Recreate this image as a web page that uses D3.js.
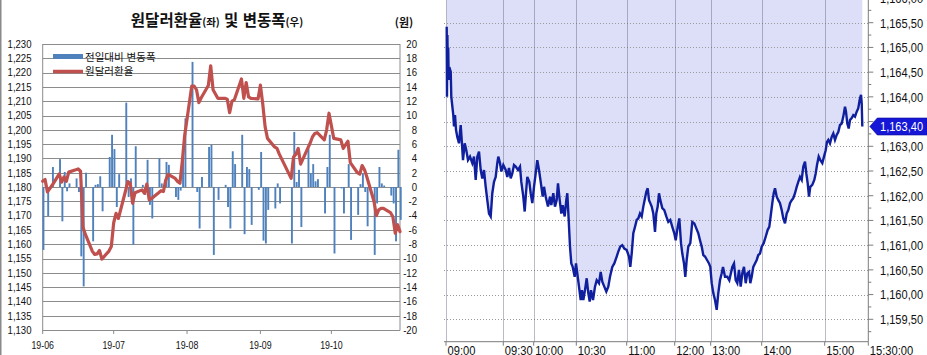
<!DOCTYPE html>
<html lang="ko">
<head>
<meta charset="UTF-8">
<title>원달러환율 및 변동폭</title>
<script src="https://d3js.org/d3.v7.min.js"></script>
<style>
  body { margin: 0; background: #fff; }
  svg text { font-family: "Liberation Sans", Arial, sans-serif; fill: #111; }
  svg text.kr { font-family: "Noto Sans CJK KR", sans-serif; }
</style>
</head>
<body>
<svg id="chart" width="927" height="355"></svg>
<script>
// ---- 일별 원달러환율 / 전일대비 변동폭 ----
const dates = [
  "2019-06-03","2019-06-04","2019-06-05","2019-06-07","2019-06-10","2019-06-11","2019-06-12","2019-06-13","2019-06-14","2019-06-17",
  "2019-06-18","2019-06-19","2019-06-20","2019-06-21","2019-06-24","2019-06-25","2019-06-26","2019-06-27","2019-06-28",
  "2019-07-01","2019-07-02","2019-07-03","2019-07-04","2019-07-05","2019-07-08","2019-07-09","2019-07-10","2019-07-11","2019-07-12",
  "2019-07-15","2019-07-16","2019-07-17","2019-07-18","2019-07-19","2019-07-22","2019-07-23","2019-07-24","2019-07-25","2019-07-26",
  "2019-07-29","2019-07-30","2019-07-31",
  "2019-08-01","2019-08-02","2019-08-05","2019-08-06","2019-08-07","2019-08-08","2019-08-09","2019-08-12","2019-08-13","2019-08-14",
  "2019-08-16","2019-08-19","2019-08-20","2019-08-21","2019-08-22","2019-08-23","2019-08-26","2019-08-27","2019-08-28","2019-08-29","2019-08-30",
  "2019-09-02","2019-09-03","2019-09-04","2019-09-05","2019-09-06","2019-09-09","2019-09-10","2019-09-11","2019-09-16","2019-09-17",
  "2019-09-18","2019-09-19","2019-09-20","2019-09-23","2019-09-24","2019-09-25","2019-09-26","2019-09-27","2019-09-30",
  "2019-10-01","2019-10-02","2019-10-04","2019-10-07","2019-10-08","2019-10-10","2019-10-11","2019-10-14","2019-10-15","2019-10-16",
  "2019-10-17","2019-10-18","2019-10-21","2019-10-22","2019-10-23","2019-10-24","2019-10-25","2019-10-28","2019-10-29","2019-10-30","2019-10-31",
  "2019-11-01"
];
const rates = [
  1182.0,1182.6,1178.3,1180.6,1184.6,1181.7,1183.5,1182.0,1185.2,1186.0,
  1186.3,1185.5,1166.0,1163.5,1157.5,1156.4,1156.6,1157.8,1154.8,
  1157.6,1159.2,1167.5,1170.8,1169.0,1178.6,1181.9,1181.3,1174.3,1178.0,
  1179.0,1177.8,1181.0,1175.5,1176.0,1178.0,1178.7,1178.4,1182.4,1184.4,
  1183.0,1181.9,1181.3,
  1189.0,1198.0,1215.3,1215.3,1214.0,1209.5,1211.2,1215.5,1222.4,1214.0,
  1211.0,1211.0,1210.7,1206.0,1210.0,1210.5,1217.8,1211.0,1216.5,1211.5,1211.0,
  1210.8,1215.6,1209.0,1201.0,1197.0,1194.0,1193.5,1191.5,1183.0,1190.5,
  1191.5,1193.5,1188.0,1193.5,1195.3,1197.5,1198.7,1199.0,1196.5,
  1200.0,1205.8,1197.0,1196.5,1193.5,1196.0,1188.5,1185.0,1184.5,1187.5,
  1186.0,1183.5,1175.0,1170.0,1172.0,1172.5,1172.5,1171.0,1169.6,1163.8,1166.8,
  1164.4
];
const changes = [
  -8.8,0.6,-4.1,2.8,3.9,-4.8,2.1,-0.6,0.5,1.2,
  -0.7,-9.7,-13.9,2.0,-7.6,0.3,0.4,1.5,-3.4,
  4.2,7.3,5.3,-2.8,1.8,11.8,-1.4,1.2,-8.1,5.7,
  0.3,-1.1,3.8,-2.5,-4.4,4.0,0.5,0.2,3.5,3.1,
  -1.4,-1.8,-0.5,
  5.4,9.6,17.5,0.0,-0.7,-5.8,1.4,5.6,5.9,-9.5,
  -1.8,0.3,-2.8,-5.8,5.0,3.2,7.3,-6.6,2.8,2.5,-5.3,
  -0.4,4.9,-7.5,-7.9,-3.2,-3.0,0.5,-2.3,-7.9,7.7,
  0.7,2.4,-5.6,5.4,1.9,3.2,0.8,1.1,-3.7,
  2.8,7.3,-9.3,-0.2,-3.7,3.2,-7.4,-3.9,0.4,1.9,
  -0.7,-5.5,-9.5,-2.3,2.8,0.5,0.2,-1.2,-2.3,-7.6,5.2,
  -4.6
];

// 왼쪽 차트 눈금
const leftTicks = [1130,1135,1140,1145,1150,1155,1160,1165,1170,1175,1180,1185,1190,1195,1200,1205,1210,1215,1220,1225,1230];
const rightTicks = [-20,-18,-16,-14,-12,-10,-8,-6,-4,-2,0,2,4,6,8,10,12,14,16,18,20];
const monthTicks = ["2019-06-03","2019-07-03","2019-08-03","2019-09-03","2019-10-03"];
const monthLabels = ["19-06","19-07","19-08","19-09","19-10"];

// ---- 장중 환율 (체결 순번, 가격) ----
const tradeSeq = [
  7,10,14,18,22,27,33,47,53,73,80,90,100,113,130,147,157,170,187,203,220,240,263,280,297,313,330,347,363,380,
  397,413,430,447,463,480,497,513,523,540,553,573,597,613,630,647,663,680,697,720,740,753,773,787,800,813,833,847,863,880,
  897,913,930,947,967,980,997,1020,1040,1053,1073,1090,1107,1120,1137,1153,1167,1187,1203,1213,1227,1240,1253,1267,1287,1300,
  1313,1330,1347,1360,1373,1390,1407,1423,1437,1450,1470,1490,1507,1530,1547,1563,1583,1603,1623,1640,1663,1683,1707,1723,
  1743,1763,1783,1807,1830,1843,1857,1873,1890,1907,1923,1940,1957,1973,1990,2003,2017,2030,2043,2057,2073,2090,2103,2117,
  2130,2143,2163,2183,2203,2223,2243,2263,2283,2297,2317,2333,2350,2363,2380,2393,2407,2423,2443,2463,2483,2503,2523,2540,
  2557,2573,2590,2610,2630,2643,2657,2673,2690,2707,2723,2740,2757,2770,2790,2813,2833,2863,2880,2897,2913,2930,2947,2963,
  2980,2997,3013,3030,3043,3057,3073,3090,3107,3123,3140,3157,3177,3197,3217,3233,3250,3263,3277,3290,3307,3323,3340,3357,
  3373,3390,3407,3423,3440,3457,3473,3490,3507,3523,3540,3557,3573,3590,3603,3617,3630,3643,3663,3683,3697,3710,3727,3743,
  3763,3780,3797,3810,3823,3840,3857,3873,3890,3907,3923,3940,3957,3973,3990,4000,4013,4027,4040,4057,4073,4090,4107,4123,
  4137,4150,4157,4163
];
const tradePrice = [
  1165.42,1164.00,1165.25,1164.40,1165.00,1164.34,1164.60,1164.51,1164.00,1163.63,1163.40,1163.63,1163.33,1163.19,1163.06,1163.43,1163.13,1162.72,1163.06,1162.92,1162.72,1162.79,1162.66,1162.79,1162.32,1162.79,1162.89,1162.52,1162.35,1162.52,
  1162.18,1161.91,1161.64,1161.58,1162.05,1162.28,1162.38,1162.66,1162.79,1162.66,1162.49,1162.62,1162.52,1162.38,1162.56,1162.35,1162.45,1162.62,1162.59,1162.52,1162.59,1162.28,1161.98,1161.68,1162.05,1162.38,1162.28,1162.05,1161.85,1162.18,
  1162.45,1162.72,1162.52,1162.28,1161.98,1162.18,1161.98,1161.78,1161.98,1161.81,1162.05,1161.78,1161.91,1162.25,1161.91,1161.64,1161.81,1161.58,1161.91,1162.05,1161.51,1160.97,1160.63,1160.56,1160.36,1160.63,
  1160.43,1160.16,1159.89,1160.09,1159.89,1160.09,1160.33,1160.03,1159.86,1160.09,1159.89,1160.16,1160.29,1160.23,1160.46,1160.26,1160.16,1160.06,1160.16,1160.36,1160.56,1160.63,1160.77,1160.87,
  1160.97,1161.00,1160.93,1160.90,1160.77,1160.56,1160.83,1161.24,1161.37,1161.51,1161.54,1161.64,1161.58,1161.78,1161.95,1162.08,1162.15,1161.91,1161.85,1161.78,1161.64,1161.27,1161.64,1161.78,
  1162.05,1161.91,1161.75,1161.71,1161.58,1161.47,1161.51,1161.37,1161.24,1161.10,1161.37,1161.54,1161.04,1160.83,1160.63,1160.36,1160.70,1160.97,1161.04,1161.47,1161.44,1161.34,1161.24,1161.10,
  1160.97,1160.80,1160.77,1160.70,1160.63,1160.56,1160.23,1160.03,1159.89,1159.69,1160.03,1160.29,1160.43,1160.56,1160.36,1160.36,1160.29,1160.56,1160.63,1160.29,1160.23,1160.50,1160.16,1160.43,
  1160.56,1160.23,1160.43,1160.46,1160.23,1160.36,1160.56,1160.63,1160.70,1160.80,1160.83,1160.97,1161.04,1161.17,1161.31,1161.37,1161.64,1161.85,1162.05,1162.15,1161.98,1161.91,1161.85,1161.71,
  1161.54,1161.44,1161.64,1161.71,1161.85,1161.91,1161.95,1162.05,1162.18,1162.28,1162.38,1162.32,1162.59,1162.69,1162.45,1162.25,1161.98,1162.18,1162.22,1162.32,1162.45,1162.62,1162.79,1162.72,
  1162.66,1162.79,1162.92,1163.09,1163.13,1163.06,1163.19,1163.26,1163.13,1163.23,1163.29,1163.43,1163.46,1163.60,1163.80,1163.70,1163.46,1163.36,1163.53,1163.57,1163.63,1163.60,1163.70,1163.77,
  1163.94,1164.04,1163.87,1163.40
];

// 오른쪽 차트 눈금
const timeTicks = [0,573,877,1303,1807,2287,2647,3157,3787,4223];
const timeLabels = ["09:00","09:30","10:00","10:30","11:00","12:00","13:00","14:00","15:00","15:30:00"];
const priceTicks = [1159.5,1160.0,1160.5,1161.0,1161.5,1162.0,1162.5,1163.0,1163.5,1164.0,1164.5,1165.0,1165.5,1166.0];

const svg = d3.select("#chart");
const parse = d3.timeParse("%Y-%m-%d");

// 좁은 글꼴이 없어서 가로로 눌러 그린다
function narrowText(sel, x, y, size, sx) {
  return sel.attr("transform", (d, i) => `translate(${x(d, i)},${y(d, i)}) scale(${sx},1)`)
    .attr("font-size", size);
}

// ================= 왼쪽: 원달러환율(좌) 및 변동폭(우) =================
const L = {left: 42.7, right: 400, top: 44, bottom: 330};
const daily = dates.map((d, i) => ({date: parse(d), rate: rates[i], chg: changes[i]}));

const xL = d3.scaleTime()
  .domain([daily[0].date, daily[daily.length - 1].date])
  .range([L.left, L.right]);
const yL = d3.scaleLinear().domain([1130, 1230]).range([L.bottom, L.top]);
const yR = d3.scaleLinear().domain([-20, 20]).range([L.bottom, L.top]);

// 바깥 테두리
svg.append("line").attr("x1", 0.75).attr("x2", 0.75).attr("y1", 0).attr("y2", 355)
  .attr("stroke", "#8a8a8a").attr("stroke-width", 1.5);

// 가로 격자
svg.append("g").selectAll("line").data(leftTicks).join("line")
  .attr("x1", L.left).attr("x2", L.right)
  .attr("y1", d => Math.round(yL(d)) + 0.5).attr("y2", d => Math.round(yL(d)) + 0.5)
  .attr("stroke", "#8c8c8c").attr("stroke-width", 1);

// 좌우 축선
[L.left, L.right].forEach(x => {
  svg.append("line").attr("x1", x).attr("x2", x).attr("y1", L.top).attr("y2", L.bottom + 0.5)
    .attr("stroke", "#8c8c8c").attr("stroke-width", 1);
});

// x축 눈금
svg.append("g").selectAll("line").data(monthTicks).join("line")
  .attr("x1", d => xL(parse(d))).attr("x2", d => xL(parse(d)))
  .attr("y1", L.bottom).attr("y2", L.bottom + 4)
  .attr("stroke", "#8c8c8c");
narrowText(svg.append("g").selectAll("text").data(monthTicks).join("text"),
    d => xL(parse(d)), () => L.bottom + 19, 11, 0.8)
  .attr("text-anchor", "middle")
  .text((d, i) => monthLabels[i]);

// 좌축 라벨
narrowText(svg.append("g").selectAll("text").data(leftTicks).join("text"),
    () => 31.5, d => yL(d), 11, 0.87)
  .attr("dy", "0.35em").attr("text-anchor", "end")
  .text(d => d3.format(",")(d));

// 우축 라벨
narrowText(svg.append("g").selectAll("text").data(rightTicks).join("text"),
    () => 417, d => yR(d), 11, 0.87)
  .attr("dy", "0.35em").attr("text-anchor", "end")
  .text(d => d);

// 변동폭 막대
svg.append("g").selectAll("rect").data(daily).join("rect")
  .attr("x", d => xL(d.date) - 0.2)
  .attr("width", 1.9)
  .attr("y", d => Math.min(yR(d.chg), yR(0)))
  .attr("height", d => Math.abs(yR(d.chg) - yR(0)))
  .attr("fill", "#4f81bd");

// 환율 선
svg.append("path").datum(daily)
  .attr("d", d3.line().x(d => xL(d.date)).y(d => yL(d.rate)))
  .attr("fill", "none").attr("stroke", "#c0504d")
  .attr("stroke-width", 3.2).attr("stroke-linejoin", "round").attr("stroke-linecap", "round");

// 범례
svg.append("rect").attr("x", 53).attr("y", 54).attr("width", 30).attr("height", 5).attr("fill", "#4f81bd");
svg.append("text").attr("class", "kr").attr("x", 85).attr("y", 57).attr("dy", "0.35em")
  .attr("font-size", 10.5).text("전일대비 변동폭");
svg.append("line").attr("x1", 53).attr("x2", 83).attr("y1", 71.5).attr("y2", 71.5)
  .attr("stroke", "#c0504d").attr("stroke-width", 3.5);
svg.append("text").attr("class", "kr").attr("x", 85).attr("y", 71.5).attr("dy", "0.35em")
  .attr("font-size", 10.5).text("원달러환율");

// 제목
const title = svg.append("text").attr("class", "kr").attr("x", 217).attr("y", 26)
  .attr("text-anchor", "middle").attr("font-weight", "bold");
title.append("tspan").attr("font-size", 15.5).text("원달러환율");
title.append("tspan").attr("font-size", 10.5).text("(좌)");
title.append("tspan").attr("font-size", 15.5).text(" 및 변동폭");
title.append("tspan").attr("font-size", 10.5).text("(우)");
svg.append("text").attr("class", "kr").attr("x", 404).attr("y", 27)
  .attr("text-anchor", "middle").attr("font-size", 11).attr("font-weight", "bold").text("(원)");

// ================= 오른쪽: 장중 환율 =================
const R = {left: 446, right: 868.3, top: 0, bottom: 341.7};
const trades = tradeSeq.map((s, i) => ({seq: s, price: tradePrice[i]}));
const last = trades[trades.length - 1];

const xT = d3.scaleLinear().domain([0, 4223]).range([R.left, R.right]);
const yP = d3.scaleLinear().domain([1159.5, 1165.5]).range([319.3, 22.7]);
const fmtPrice = v => d3.format(",.2f")(v).replace(".", ",");
const yc = yP(last.price);

// 선 위쪽 영역
svg.append("path").datum(trades)
  .attr("d", d3.area().x(d => xT(d.seq)).y0(R.top).y1(d => yP(d.price)))
  .attr("fill", "#dcdff7");

// 점선 가로 격자
svg.append("g").selectAll("line").data(priceTicks).join("line")
  .attr("x1", R.left - 2).attr("x2", R.right)
  .attr("y1", d => Math.round(yP(d)) + 0.5).attr("y2", d => Math.round(yP(d)) + 0.5)
  .attr("stroke", "#9a9a9a").attr("stroke-dasharray", "1,2");

// 세로 격자
svg.append("g").selectAll("line").data(timeTicks.slice(0, -1)).join("line")
  .attr("x1", d => Math.round(xT(d)) + 0.5).attr("x2", d => Math.round(xT(d)) + 0.5)
  .attr("y1", R.top).attr("y2", R.bottom)
  .attr("stroke", "rgba(90,90,125,0.42)");

// 가격 선
svg.append("path").datum(trades)
  .attr("d", d3.line().x(d => xT(d.seq)).y(d => yP(d.price)))
  .attr("fill", "none").attr("stroke", "#0f1f9e").attr("stroke-width", 2.4).attr("stroke-linejoin", "miter");

// 축선
svg.append("line").attr("x1", R.right).attr("x2", R.right).attr("y1", R.top).attr("y2", R.bottom)
  .attr("stroke", "#7c7c7c");
svg.append("line").attr("x1", R.left - 2).attr("x2", R.right).attr("y1", R.bottom).attr("y2", R.bottom)
  .attr("stroke", "#7c7c7c");

// 가격 눈금 (현재가 표시에 가려지는 라벨은 생략)
svg.append("g").selectAll("line").data(priceTicks).join("line")
  .attr("x1", R.right).attr("x2", R.right + 5)
  .attr("y1", d => yP(d)).attr("y2", d => yP(d)).attr("stroke", "#7c7c7c");
svg.append("g").selectAll("line").data(priceTicks.map(v => v - 0.25)).join("line")
  .attr("x1", R.right).attr("x2", R.right + 3)
  .attr("y1", d => yP(d)).attr("y2", d => yP(d)).attr("stroke", "#7c7c7c");
narrowText(svg.append("g").selectAll("text")
    .data(priceTicks.filter(v => Math.abs(yP(v) - yc) > 12)).join("text"),
    () => 880, d => yP(d), 13.5, 0.82)
  .attr("dy", "0.36em").text(d => fmtPrice(d));

// 시간 눈금
svg.append("g").selectAll("line").data(timeTicks).join("line")
  .attr("x1", d => xT(d)).attr("x2", d => xT(d))
  .attr("y1", R.bottom).attr("y2", R.bottom + 4).attr("stroke", "#7c7c7c");
narrowText(svg.append("g").selectAll("text").data(timeTicks).join("text"),
    d => xT(d) + 1.5, () => 354.5, 13, 0.86)
  .text((d, i) => timeLabels[i]);

// 현재가 표시
svg.append("polygon")
  .attr("points", [[R.right + 1.5, yc], [R.right + 9, yc - 8.5], [927, yc - 8.5], [927, yc + 8.5], [R.right + 9, yc + 8.5]].join(" "))
  .attr("fill", "#1616d6").attr("stroke", "#0a0a9a").attr("stroke-width", 0.6);
narrowText(svg.append("text").datum(last.price), () => 880, () => yc, 13.5, 0.82)
  .attr("dy", "0.36em").style("fill", "#fff").text(fmtPrice(last.price));
</script>
</body>
</html>
